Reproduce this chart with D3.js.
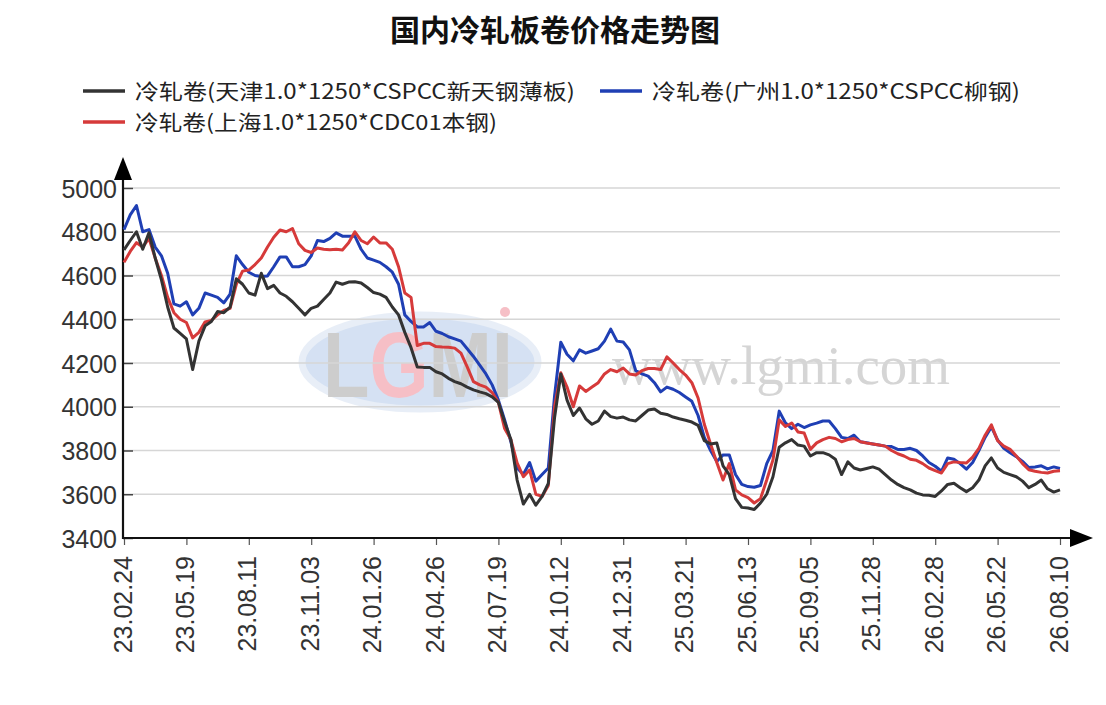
<!DOCTYPE html>
<html><head><meta charset="utf-8">
<script src="https://cdn.jsdelivr.net/npm/d3@7"></script>
<style>html,body{margin:0;padding:0;background:#fff;}</style>
</head><body>
<svg id="c" width="1106" height="705"></svg>
<script>
const title = "国内冷轧板卷价格走势图";
const seriesNames = ["冷轧卷(天津1.0*1250*CSPCC新天钢薄板)", "冷轧卷(广州1.0*1250*CSPCC柳钢)", "冷轧卷(上海1.0*1250*CDC01本钢)"];
const seriesColors = ["#333333", "#1f3fb4", "#d63a3a"];
const tickLabels = ["23.02.24","23.05.19","23.08.11","23.11.03","24.01.26","24.04.26","24.07.19","24.10.12","24.12.31","25.03.21","25.06.13","25.09.05","25.11.28","26.02.28","26.05.22","26.08.10"];
const yTicks = [3400,3600,3800,4000,4200,4400,4600,4800,5000];
const pointsPerTick = 10;

const tianjin = [
4717,4760,4800,4720,4795,4680,4580,4456,4360,4335,4310,
4170,4300,4370,4390,4435,4430,4455,4585,4560,4520,
4510,4610,4540,4555,4520,4505,4480,4450,4420,4450,
4460,4490,4520,4570,4560,4570,4571,4566,4545,4522,
4515,4500,4456,4420,4340,4270,4182,4180,4180,4160,
4150,4130,4115,4105,4090,4077,4068,4060,4045,4020,
3930,3850,3665,3555,3600,3550,3590,3650,3950,4150,
4030,3960,3994,3945,3920,3935,3980,3955,3948,3953,
3940,3935,3960,3985,3990,3970,3965,3953,3945,3938,
3930,3915,3845,3830,3834,3730,3690,3580,3540,3537,
3530,3560,3600,3680,3815,3835,3850,3825,3820,3775,
3790,3790,3780,3760,3690,3748,3720,3711,3718,3725,
3715,3690,3665,3645,3630,3620,3605,3597,3595,3590,
3615,3645,3650,3630,3612,3630,3665,3730,3766,3720,
3700,3690,3680,3660,3630,3645,3665,3625,3610,3620];

const guangzhou = [
4810,4877,4920,4800,4810,4730,4690,4610,4470,4460,4480,
4420,4450,4520,4510,4500,4475,4515,4690,4650,4615,
4600,4595,4598,4640,4685,4685,4640,4640,4650,4690,
4760,4755,4770,4795,4780,4780,4780,4720,4680,4670,
4660,4640,4615,4560,4420,4390,4365,4365,4385,4345,
4335,4320,4310,4300,4265,4230,4190,4150,4100,4030,
3940,3840,3720,3690,3745,3660,3690,3720,4050,4295,
4240,4210,4260,4245,4255,4265,4300,4355,4300,4296,
4260,4165,4150,4140,4110,4068,4090,4080,4065,4045,
4025,3960,3860,3800,3750,3780,3780,3690,3645,3635,
3632,3640,3740,3800,3980,3926,3900,3920,3905,3917,
3925,3935,3935,3900,3860,3855,3870,3840,3835,3830,
3825,3820,3818,3805,3805,3810,3800,3775,3745,3728,
3705,3766,3760,3740,3715,3745,3800,3860,3908,3848,
3810,3790,3772,3750,3722,3725,3730,3716,3725,3718];

const shanghai = [
4660,4710,4750,4730,4770,4680,4600,4500,4430,4400,4385,
4315,4340,4388,4395,4420,4440,4450,4560,4620,4625,
4650,4680,4730,4775,4808,4800,4815,4745,4715,4705,
4726,4720,4718,4720,4717,4750,4800,4760,4745,4776,
4749,4749,4720,4640,4520,4500,4280,4290,4290,4275,
4273,4272,4268,4245,4182,4115,4100,4090,4065,4020,
3900,3850,3743,3680,3711,3600,3590,3640,4000,4155,
4090,4000,4095,4070,4090,4110,4150,4170,4160,4177,
4150,4145,4165,4175,4175,4170,4228,4200,4170,4145,
4110,4040,3920,3830,3745,3665,3740,3620,3597,3585,
3560,3580,3665,3757,3940,3910,3926,3885,3880,3805,
3835,3850,3860,3855,3840,3850,3855,3840,3834,3830,
3825,3820,3800,3785,3775,3760,3755,3740,3720,3708,
3697,3740,3748,3745,3743,3770,3810,3870,3917,3845,
3820,3805,3775,3740,3712,3705,3700,3697,3705,3707];

const svg = d3.select("#c");
const plotLeft = 124, plotRight = 1060, plotTop = 188, plotBottom = 538;
const nPts = tianjin.length;
const x = d3.scaleLinear().domain([0, nPts - 1]).range([plotLeft, plotRight]);
const y = d3.scaleLinear().domain([3400, 5000]).range([plotBottom, plotTop]);

// watermark
const defs = svg.append("defs");
const grad = defs.append("linearGradient").attr("id", "logoFill")
  .attr("gradientUnits", "userSpaceOnUse").attr("x1", 323).attr("x2", 513).attr("y1", 0).attr("y2", 0);
[[0, "#bdbdbd"], [0.235, "#bdbdbd"], [0.235, "#f4aab4"], [0.54, "#f4aab4"], [0.54, "#bdbdbd"], [1, "#bdbdbd"]]
  .forEach(s => grad.append("stop").attr("offset", s[0]).attr("stop-color", s[1]));
const wm = svg.append("g").attr("opacity", 0.75);
wm.append("ellipse").attr("cx", 420).attr("cy", 362).attr("rx", 118).attr("ry", 47)
  .attr("fill", "#c8d8ef").attr("stroke", "#e1e9f5").attr("stroke-width", 7);
wm.append("text").attr("x", 323).attr("y", 397)
  .attr("font-family", "Liberation Sans, Arial, sans-serif").attr("font-weight", "bold")
  .attr("font-size", 92).attr("fill", "url(#logoFill)")
  .attr("textLength", 190).attr("lengthAdjust", "spacingAndGlyphs").text("LGMI");
wm.append("circle").attr("cx", 505).attr("cy", 312).attr("r", 5).attr("fill", "#f4aab4");
wm.append("text").attr("x", 612).attr("y", 384)
  .attr("font-family", "Liberation Serif, Times New Roman, serif")
  .attr("font-size", 54).attr("fill", "#c8c8c8")
  .attr("textLength", 338).attr("lengthAdjust", "spacingAndGlyphs").text("www.lgmi.com");

// gridlines
svg.append("g").selectAll("line").data(yTicks.filter(v => v > 3400)).join("line")
  .attr("x1", plotLeft).attr("x2", plotRight).attr("y1", d => y(d)).attr("y2", d => y(d))
  .attr("stroke", "#d6d6d6").attr("stroke-width", 1.5);

// y axis
const yAxis = d3.axisLeft(y).tickValues(yTicks).tickSize(-10).tickPadding(16).tickFormat(d3.format("d"));
const gy = svg.append("g").attr("transform", `translate(${plotLeft - 1},0)`).call(yAxis);
gy.select(".domain").remove();
gy.selectAll(".tick line").attr("stroke", "#444").attr("stroke-width", 1.5);
gy.selectAll(".tick text")
  .attr("font-family", "Liberation Sans, Arial, sans-serif").attr("font-size", 25).attr("fill", "#333")
  .attr("dy", "0.36em").attr("x", -6);

// x axis
const xTickVals = tickLabels.map((_, i) => i * pointsPerTick);
const xAxis = d3.axisBottom(x).tickValues(xTickVals).tickSize(7).tickFormat((d, i) => tickLabels[i]);
const gx = svg.append("g").attr("transform", `translate(0,${plotBottom})`).call(xAxis);
gx.select(".domain").remove();
gx.selectAll(".tick line").attr("stroke", "#555").attr("stroke-width", 1.2);
gx.selectAll(".tick text")
  .attr("font-family", "Liberation Sans, Arial, sans-serif").attr("font-size", 25).attr("fill", "#333")
  .attr("text-anchor", "end").attr("x", 0).attr("y", 0).attr("dy", "0.36em")
  .attr("transform", "translate(-2,18) rotate(-90)");

// axis lines and arrows
svg.append("line").attr("x1", plotLeft - 1).attr("x2", plotLeft - 1).attr("y1", plotBottom + 1).attr("y2", 170)
  .attr("stroke", "#111").attr("stroke-width", 2.2);
svg.append("line").attr("x1", plotLeft - 2).attr("x2", 1075).attr("y1", plotBottom).attr("y2", plotBottom)
  .attr("stroke", "#111").attr("stroke-width", 2.2);
svg.append("path").attr("d", `M${plotLeft - 1},157 L${plotLeft - 10},180 L${plotLeft + 8},180 Z`).attr("fill", "#000");
svg.append("path").attr("d", `M1093,${plotBottom} L1070,${plotBottom - 9} L1070,${plotBottom + 9} Z`).attr("fill", "#000");

// lines
const line = d3.line().x((d, i) => x(i)).y(d => y(d)).curve(d3.curveLinear);
const allSeries = [guangzhou, shanghai, tianjin];
const colorOrder = [seriesColors[1], seriesColors[2], seriesColors[0]];
svg.append("g").selectAll("path").data(allSeries).join("path")
  .attr("d", d => line(d)).attr("fill", "none")
  .attr("stroke", (d, i) => colorOrder[i]).attr("stroke-width", 3).attr("stroke-linejoin", "round");

// title
svg.append("text").attr("x", 555).attr("y", 41).attr("text-anchor", "middle")
  .attr("font-family", "Noto Sans CJK SC, sans-serif").attr("font-weight", "bold")
  .attr("font-size", 30).attr("fill", "#111").text(title);

// legend
const legendPos = [[83, 91], [600, 91], [83, 122]];
const legendLen = [440, 368, 362];
const lg = svg.append("g").selectAll("g").data(seriesNames).join("g")
  .attr("transform", (d, i) => `translate(${legendPos[i][0]},${legendPos[i][1]})`);
lg.append("line").attr("x1", 0).attr("x2", 42).attr("y1", 0).attr("y2", 0)
  .attr("stroke", (d, i) => seriesColors[i]).attr("stroke-width", 3.5);
lg.append("text").attr("x", 52).attr("y", 0).attr("dy", "0.36em")
  .attr("font-family", "Noto Sans CJK SC, sans-serif").attr("font-size", 21).attr("fill", "#222")
  .attr("textLength", (d, i) => legendLen[i]).attr("lengthAdjust", "spacingAndGlyphs")
  .text(d => d);
</script>
</body></html>
